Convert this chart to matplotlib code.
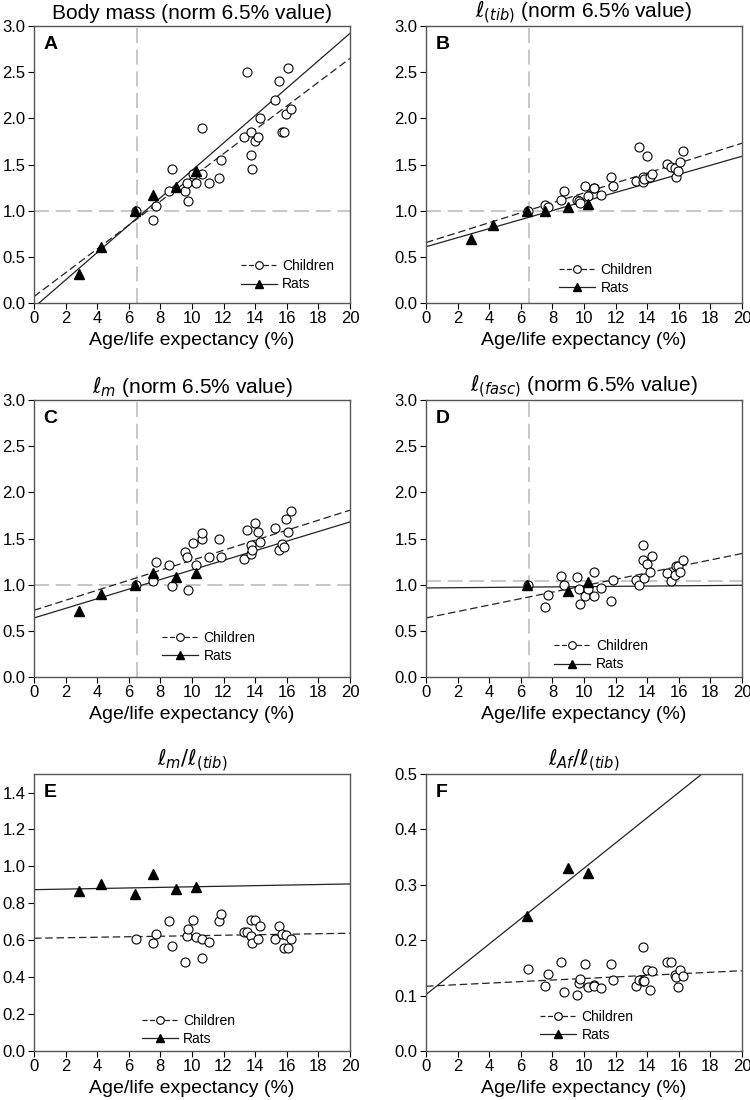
import numpy as np
import matplotlib.pyplot as plt

plt.rcParams['font.family'] = ['Liberation Sans', 'DejaVu Sans']
plt.rcParams['mathtext.fontset'] = 'dejavusans'

# ages (% of life expectancy)
child_age = [6.48, 7.54, 7.75, 8.57, 8.74, 9.54, 9.68, 9.73, 10.06, 10.23, 10.61, 10.61, 11.07, 11.73, 11.85,
             13.28, 13.47, 13.73, 13.75, 13.81, 13.98, 14.19, 14.29, 15.28, 15.49, 15.73, 15.85, 15.96, 16.08, 16.27]
rat_age = [2.86, 4.25, 6.42, 7.54, 9.01, 10.27]
rat_age_short = [6.42, 9.01, 10.27]

# children values per panel
child_A = [1.0, 0.90, 1.055, 1.21, 1.45, 1.21, 1.30, 1.105, 1.40, 1.30, 1.40, 1.90, 1.30, 1.35, 1.55,
           1.80, 2.50, 1.85, 1.60, 1.45, 1.75, 1.80, 2.0, 2.20, 2.40, 1.85, 1.85, 2.05, 2.55, 2.10]
child_B = [1.0, 1.066, 1.04, 1.12, 1.21, 1.12, 1.10, 1.08, 1.27, 1.156, 1.25, 1.245, 1.167, 1.37, 1.264,
           1.325, 1.69, 1.36, 1.31, 1.34, 1.59, 1.36, 1.40, 1.505, 1.47, 1.46, 1.37, 1.43, 1.527, 1.65]
child_C = [1.0, 1.045, 1.247, 1.21, 0.983, 1.35, 1.30, 0.947, 1.453, 1.218, 1.49, 1.56, 1.297, 1.49, 1.30,
           1.283, 1.597, 1.43, 1.337, 1.373, 1.666, 1.568, 1.467, 1.615, 1.38, 1.44, 1.41, 1.717, 1.572, 1.80]
child_D = [1.0, 0.763, 0.885, 1.09, 1.0, 1.088, 0.95, 0.795, 0.878, 0.95, 0.878, 1.135, 0.96, 0.828, 1.05,
           1.055, 1.0, 1.43, 1.27, 1.07, 1.22, 1.135, 1.31, 1.124, 1.045, 1.11, 1.207, 1.2, 1.135, 1.265]
child_E = [0.607, 0.583, 0.636, 0.706, 0.569, 0.484, 0.623, 0.659, 0.71, 0.616, 0.607, 0.506, 0.59, 0.706, 0.74,
           0.643, 0.643, 0.71, 0.621, 0.583, 0.71, 0.609, 0.677, 0.607, 0.677, 0.636, 0.556, 0.627, 0.556, 0.605]
child_F = [0.148, 0.117, 0.139, 0.161, 0.106, 0.102, 0.122, 0.13, 0.157, 0.116, 0.12, 0.118, 0.113, 0.158, 0.129,
           0.117, 0.129, 0.188, 0.127, 0.127, 0.147, 0.11, 0.145, 0.161, 0.160, 0.138, 0.133, 0.116, 0.146, 0.135]

# rat values per panel
rat_A = [0.32, 0.61, 1.0, 1.17, 1.26, 1.43]
rat_B = [0.695, 0.84, 1.0, 1.0, 1.045, 1.07]
rat_C = [0.712, 0.90, 1.0, 1.128, 1.08, 1.124]
rat_D = [1.0, 0.93, 1.026]
rat_E = [0.869, 0.907, 0.849, 0.957, 0.879, 0.889]
rat_F = [0.243, 0.33, 0.322]

# regression lines (intercept, slope)
child_fit = [(0.07, 0.129), (0.655, 0.0538), (0.723, 0.0542), (0.64, 0.0349), (0.611, 0.00135), (0.117, 0.0014)]
rat_fit = [(-0.047, 0.1484), (0.61, 0.049), (0.64, 0.052), (0.965, 0.00145), (0.874, 0.00155), (0.102, 0.0228)]

letters = ['A', 'B', 'C', 'D', 'E', 'F']
titles = ['Body mass (norm 6.5% value)',
          r'$\ell_{(tib)}$ (norm 6.5% value)',
          r'$\ell_m$ (norm 6.5% value)',
          r'$\ell_{(fasc)}$ (norm 6.5% value)',
          r'$\ell_m/\ell_{(tib)}$',
          r'$\ell_{Af}/\ell_{(tib)}$']
ylims = [3.0, 3.0, 3.0, 3.0, 1.5, 0.5]
yticks = [np.arange(0, 3.01, 0.5), np.arange(0, 3.01, 0.5), np.arange(0, 3.01, 0.5), np.arange(0, 3.01, 0.5),
          np.arange(0, 1.41, 0.2), np.arange(0, 0.51, 0.1)]
ref_h = [1.0, 1.0, 1.0, 1.04, None, None]
legend_pos = [(0.623, 0.007), (0.39, -0.005), (0.374, 0.015), (0.375, -0.015), (0.31, -0.017), (0.33, -0.002)]

children = [child_A, child_B, child_C, child_D, child_E, child_F]
rats = [rat_A, rat_B, rat_C, rat_D, rat_E, rat_F]
rat_x = [rat_age, rat_age, rat_age, rat_age_short, rat_age, rat_age_short]

axpos = [(0.0453, 0.7245), (0.568, 0.7245), (0.0453, 0.3845), (0.568, 0.3845), (0.0453, 0.0445), (0.568, 0.0445)]

fig = plt.figure(figsize=(7.5, 11), dpi=100)
xx = np.array([0, 20.0])
for i in range(6):
    ax = fig.add_axes([axpos[i][0], axpos[i][1], 0.4213, 0.2518])
    if ref_h[i] is not None:
        ax.axhline(ref_h[i], color='#bdbdbd', lw=1.2, dashes=(9, 4), zorder=1)
        ax.axvline(6.5, color='#bdbdbd', lw=1.2, dashes=(9, 4), zorder=1)
    b0, b1 = child_fit[i]
    ax.plot(xx, b0 + b1 * xx, color='#222222', lw=0.9, dashes=(6, 3), zorder=2)
    b0, b1 = rat_fit[i]
    ax.plot(xx, b0 + b1 * xx, color='#222222', lw=0.9, zorder=2)
    ax.plot(child_age, children[i], 'o', ms=6.5, mfc='white', mec='black', mew=0.8, zorder=3)
    ax.plot(rat_x[i], rats[i], '^', ms=6.5, mfc='black', mec='black', zorder=4)
    # legend proxies
    h1, = ax.plot([], [], color='#222222', lw=0.9, dashes=(4, 2), marker='o', ms=5.5, mfc='white', mec='black', mew=0.8)
    h2, = ax.plot([], [], color='#222222', lw=0.9, marker='^', ms=6, mfc='black', mec='black')
    ax.legend([h1, h2], ['Children', 'Rats'], loc='lower left', bbox_to_anchor=legend_pos[i],
              frameon=False, fontsize=10, handlelength=2.6, handletextpad=0.4, labelspacing=0.3, borderpad=0.2)
    ax.set_xlim(0, 20)
    ax.set_ylim(0, ylims[i])
    ax.set_xticks(range(0, 21, 2))
    ax.set_yticks(yticks[i])
    if ylims[i] == 0.5:
        ax.set_yticklabels(['%.1f' % v for v in yticks[i]])
    ax.tick_params(direction='out', length=4, labelsize=12, width=0.8, pad=2)
    for s in ax.spines.values():
        s.set_color('#555555')
        s.set_linewidth(1.0)
    ax.set_xlabel('Age/life expectancy (%)', fontsize=14, labelpad=4)
    ax.set_title(titles[i], fontsize=15, pad=5)
    ax.text(0.03, 0.965, letters[i], transform=ax.transAxes, fontsize=14, fontweight='bold', va='top', ha='left')

plt.savefig('out.png')
